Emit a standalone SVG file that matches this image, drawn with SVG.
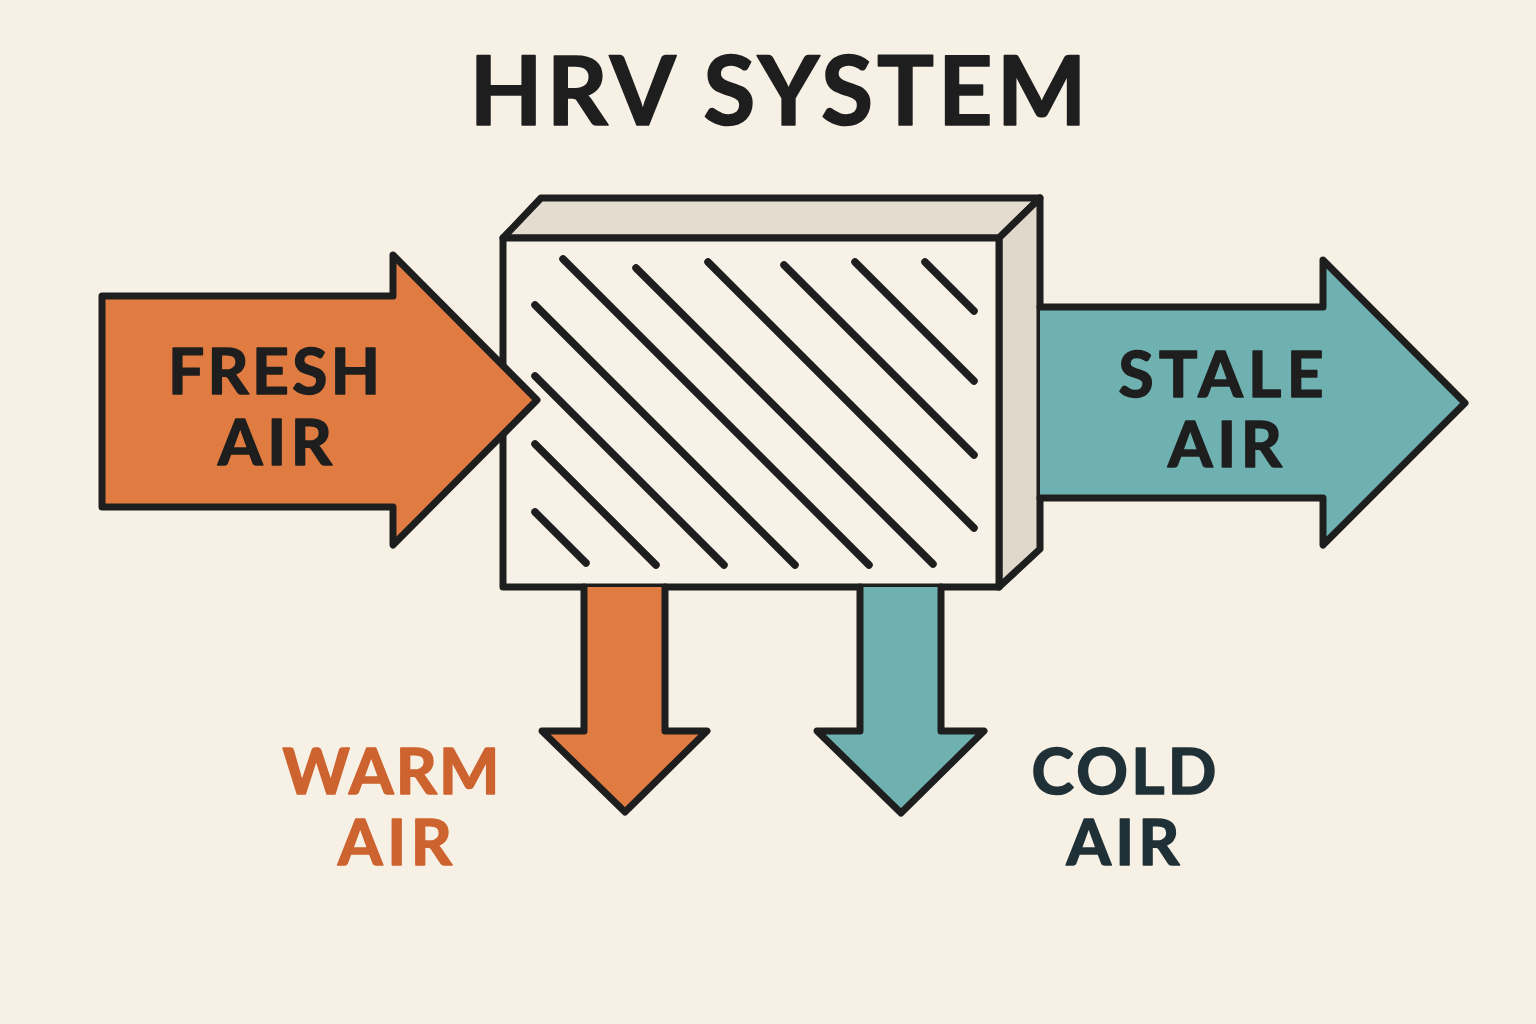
<svg xmlns="http://www.w3.org/2000/svg" width="1536" height="1024" viewBox="0 0 1536 1024">
<style>
.ol{stroke:#1e1e1e;stroke-width:7;stroke-linejoin:round;stroke-linecap:round}
.hatch{stroke:#1e1e1e;stroke-width:7.5;stroke-linecap:round;fill:none}
.t{font-family:Lato,"Open Sans","Liberation Sans",sans-serif;font-weight:700;text-anchor:middle;stroke-width:1.6;stroke-linejoin:round}
.dark{fill:#1e1e1e;stroke:#1e1e1e}
.wt{fill:#cd632f;stroke:#cd632f}
.ct{fill:#1f3137;stroke:#1f3137}
.warm{fill:#e07c42}
.cool{fill:#6fb0b0}
</style>
<rect width="1536" height="1024" fill="#f7f0e5"/>
<text class="t dark" x="778" y="125" font-size="95" textLength="617" lengthAdjust="spacing">HRV SYSTEM</text>

<g id="hrv-box">
<polygon class="ol" points="503,238 541,198 1040,198 999,238" fill="#e3dccf"/>
<polygon class="ol" points="999,238 1040,198 1040,549 999,587" fill="#e0d9cb"/>
<rect class="ol" x="503" y="238" width="496" height="349" fill="#f7f1e7"/>
<g class="hatch">
<line x1="535" y1="305" x2="795" y2="565"/>
<line x1="535" y1="376" x2="724" y2="565"/>
<line x1="535" y1="444" x2="656" y2="565"/>
<line x1="535" y1="512" x2="586" y2="563"/>
<line x1="563" y1="259" x2="869" y2="565"/>
<line x1="636" y1="268" x2="933" y2="564"/>
<line x1="708" y1="262" x2="974" y2="528"/>
<line x1="784" y1="265" x2="974" y2="455"/>
<line x1="855" y1="262" x2="974" y2="381"/>
<line x1="925" y1="262" x2="974" y2="311"/>
</g>
</g>

<g id="fresh-air">
<polygon class="ol warm" points="102,296 393,296 393,255 537,400 393,545 393,507 102,507"/>
<text class="t dark" x="274" y="394" font-size="64" textLength="212" lengthAdjust="spacing">FRESH</text>
<text class="t dark" x="275" y="465" font-size="64" textLength="114" lengthAdjust="spacing">AIR</text>
</g>

<g id="stale-air">
<polygon class="cool" points="1040,307 1323,307 1323,260 1465,403 1323,545 1323,498 1040,498"/>
<polyline class="ol" fill="none" points="1040,307 1323,307 1323,260 1465,403 1323,545 1323,498 1040,498"/>
<text class="t dark" x="1221" y="397" font-size="64" textLength="205" lengthAdjust="spacing">STALE</text>
<text class="t dark" x="1225" y="467" font-size="64" textLength="114" lengthAdjust="spacing">AIR</text>
</g>

<g id="warm-air">
<polygon class="warm" points="584,587 665,587 665,731 707,731 625,812 542,731 584,731"/>
<polyline class="ol" fill="none" points="584,587 584,731 542,731 625,812 707,731 665,731 665,587"/>
<text class="t wt" x="391" y="794" font-size="64" textLength="217" lengthAdjust="spacing">WARM</text>
<text class="t wt" x="395" y="865" font-size="64" textLength="114" lengthAdjust="spacing">AIR</text>
</g>

<g id="cold-air">
<polygon class="cool" points="860,587 941,587 941,731 984,731 901,813 817,731 860,731"/>
<polyline class="ol" fill="none" points="860,587 860,731 817,731 901,813 984,731 941,731 941,587"/>
<text class="t ct" x="1124" y="794" font-size="64" textLength="185" lengthAdjust="spacing">COLD</text>
<text class="t ct" x="1123" y="865" font-size="64" textLength="113" lengthAdjust="spacing">AIR</text>
</g>

<g id="connectors"/>
</svg>
